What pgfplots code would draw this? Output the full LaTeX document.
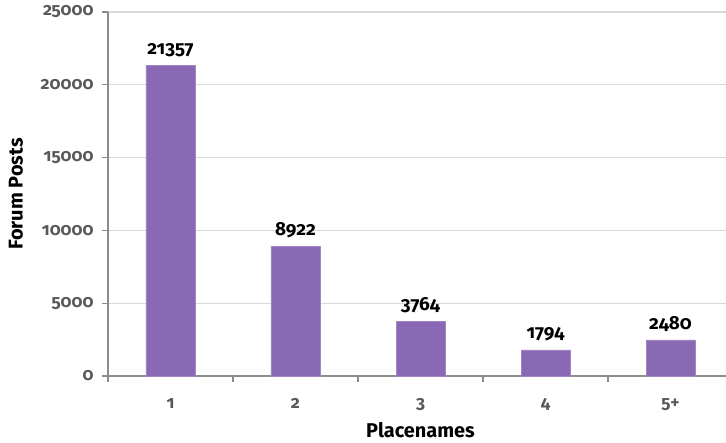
\documentclass[border=0pt]{standalone}
\usepackage{fontspec}
\setmainfont{Fira Sans}[Numbers=OldStyle]
\usepackage{pgfplots}
\pgfplotsset{compat=1.18}

\definecolor{barpurple}{RGB}{137,104,180}
\definecolor{gridgray}{RGB}{217,217,217}
\definecolor{axisgray}{RGB}{140,140,140}
\definecolor{labelgray}{RGB}{89,89,89}

\begin{document}
\begin{tikzpicture}
\begin{axis}[
  scale only axis,
  width=625bp, height=364bp,
  xmin=-0.5, xmax=4.5,
  ymin=0, ymax=25000,
  axis lines=left,
  axis line style={-, draw=axisgray, line width=1.2pt},
  ytick={0,5000,10000,15000,20000,25000},
  xtick={0,1,2,3,4},
  xticklabels={1,2,3,4,5+},
  minor xtick={-0.5,0.5,1.5,2.5,3.5,4.5},
  major x tick style={draw=none},
  minor x tick style={draw=axisgray, line width=1.2pt},
  y tick style={draw=axisgray, line width=1.2pt},
  tick align=outside,
  major tick length=6bp,
  minor tick length=6bp,
  ymajorgrids,
  grid style={draw=gridgray, line width=1.2pt},
  /pgf/number format/assume math mode=true,
  scaled y ticks=false,
  yticklabel style={font=\fontsize{17.5}{20}\selectfont\bfseries, text=labelgray, xshift=-5bp},
  xticklabel style={font=\fontsize{17.5}{20}\selectfont\bfseries, text=labelgray, yshift=-13bp},
  yticklabel={\pgfmathprintnumber[fixed,1000 sep={}]{\tick}},
  xlabel={Placenames},
  ylabel={Forum Posts},
  label style={font=\fontsize{20}{24}\selectfont\bfseries, text=black},
  xlabel style={yshift=-5bp},
  ylabel style={yshift=11bp},
  clip=false,
]
\addplot[ybar, bar width=49bp, fill=barpurple, draw=barpurple!80!white,
  nodes near coords,
  nodes near coords style={font=\fontsize{19}{22}\selectfont\bfseries, text=black, yshift=5bp},
  point meta=explicit symbolic]
  coordinates {(0,21357) [21357] (1,8922) [8922] (2,3764) [3764] (3,1794) [1794] (4,2480) [2480]};
\end{axis}
\pgfresetboundingbox
\path ([shift={(-108bp,-67bp)}]current axis.south west) rectangle ([shift={(-7bp,12bp)}]current axis.north east);
\end{tikzpicture}
\end{document}
